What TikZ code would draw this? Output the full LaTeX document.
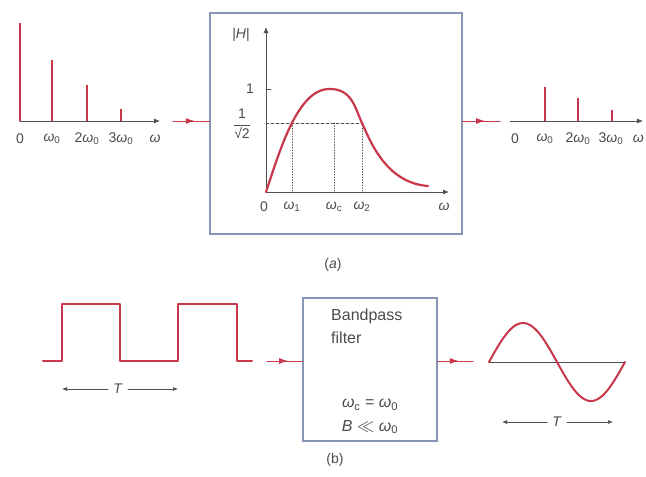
\documentclass[tikz,border=0pt]{standalone}
\usepackage{fontspec}
\setmainfont{Liberation Sans}
\usepackage{amsmath}
\usetikzlibrary{arrows.meta,decorations.markings}

\definecolor{sigred}{RGB}{200,55,75}
\definecolor{boxgray}{RGB}{135,150,180}
\definecolor{axisgray}{RGB}{80,80,80}
\definecolor{textgray}{RGB}{75,75,75}

\newcommand{\om}[1]{\textit{ω}\textsubscript{#1}}

\tikzset{
  axis/.style={axisgray,line width=0.8pt,-{Latex[length=6pt,width=5pt]}},
  spec/.style={sigred,line width=2.4pt},
  sig/.style={sigred,line width=2pt,line join=round},
  flow/.style={sigred,line width=1pt,postaction={decorate},
    decoration={markings,mark=at position 0.6 with {\arrow{Latex[length=9pt,width=6pt]}}}},
  filterbox/.style={draw=boxgray,line width=1.4pt,inner sep=0pt},
  lbl/.style={textgray,font=\fontsize{14}{16}\selectfont,inner sep=1pt},
  boxtxt/.style={textgray,font=\fontsize{16}{19}\selectfont,inner sep=1pt},
  guide/.style={axisgray,line width=0.7pt,densely dashed},
  period/.style={axisgray,line width=0.7pt,-{Latex[length=5pt,width=4pt]}}
}

\begin{document}
\begin{tikzpicture}[x=1pt,y=-1pt,line cap=round]
  \useasboundingbox (0,0) rectangle (646,477);

  % (a) input line spectrum
  \draw[axis] (20,121) -- (160,121);
  \foreach \x/\h in {20/23,52/60,87/85,121/109}
    \draw[spec,line cap=butt] (\x,121) -- (\x,\h);
  \foreach \x/\t in {20/0,52/{\om{0}},87/{2\om{0}},121/{3\om{0}},155/{\textit{ω}}}
    \node[lbl] at (\x,139) {\t};

  % (a) filter box with |H| curve
  \node[filterbox,minimum width=252pt,minimum height=221pt] (boxa) at (336,123.5) {};
  \draw[axis] (266,192) -- (266,27);
  \draw[axis] (266,192) -- (449,192);
  \draw[axisgray,line width=0.7pt] (266,89) -- (271,89);
  \draw[guide] (266,123) -- (362,123);
  \foreach \x in {292,334,362}
    \draw[guide,dotted,line width=0.9pt] (\x,123) -- (\x,192);
  \draw[sig,line width=2.2pt] (266,192) .. controls (280,150) and (298,88) .. (330,89)
    .. controls (352,89) and (355,108) .. (362,123)
    .. controls (369,138) and (385,183) .. (428,186);
  \node[lbl] at (241,35) {|\textit{H}|};
  \node[lbl] at (250,89) {1};
  \node[lbl] at (242,124) {$\dfrac{\text{1}}{\text{√2}}$};
  \foreach \x/\t in {264/0,292/{\om{1}},334/{\om{c}},362/{\om{2}},444/{\textit{ω}}}
    \node[lbl] at (\x,207) {\t};

  % (a) output line spectrum
  \draw[axis] (510,121) -- (643,121);
  \foreach \x/\h in {545/87,578/98,612/110}
    \draw[spec,line cap=butt] (\x,121) -- (\x,\h);
  \foreach \x/\t in {515/0,545/{\om{0}},578/{2\om{0}},611/{3\om{0}}}
    \node[lbl] at (\x,139) {\t};
  \node[lbl,anchor=east] at (645,139) {\textit{ω}};

  % (a) signal flow
  \coordinate (ina) at (173,121);
  \coordinate (outa) at (500,121);
  \draw[flow] (ina) -- (ina -| boxa.west);
  \draw[flow] (boxa.east |- outa) -- (outa);
  \node[lbl] (capa) at (333,265) {(\textit{a})};

  % (b) square wave input
  \draw[sig] (43,361) -- (62,361) -- (62,304) -- (120,304) -- (120,361)
    -- (178,361) -- (178,304) -- (237,304) -- (237,361) -- (252,361);
  \node[lbl,inner sep=5pt] (T1) at (118,389) {\textit{T}};
  \coordinate (T1l) at (62,389);
  \coordinate (T1r) at (178,389);
  \draw[period] (T1.west) -- (T1l);
  \draw[period] (T1.east) -- (T1r);

  % (b) bandpass filter
  \node[filterbox,minimum width=134pt,minimum height=143pt] (boxb) at (370,369.5) {};
  \node[boxtxt,anchor=west] at (330,316) {Bandpass};
  \node[boxtxt,anchor=west] at (330,338) {filter};
  \node[boxtxt] at (370,405) {\om{c} = \om{0}};
  \node[boxtxt] at (370,427) {\textit{B} $\ll$ \om{0}};

  % (b) sine output
  \draw[axisgray,line width=0.8pt] (489,362) -- (625,362);
  \draw[sig] plot[domain=0:136,samples=80,smooth] ({489+\x},{362-39*sin(\x/136*360)});
  \node[lbl,inner sep=5pt] (T2) at (557,422) {\textit{T}};
  \coordinate (T2l) at (502,422);
  \coordinate (T2r) at (613,422);
  \draw[period] (T2.west) -- (T2l);
  \draw[period] (T2.east) -- (T2r);

  % (b) signal flow
  \coordinate (inb) at (267,361);
  \coordinate (outb) at (473,361);
  \draw[flow] (inb) -- (inb -| boxb.west);
  \draw[flow] (boxb.east |- outb) -- (outb);
  \node[lbl] (capb) at (335,460) {(b)};
\end{tikzpicture}
\end{document}
